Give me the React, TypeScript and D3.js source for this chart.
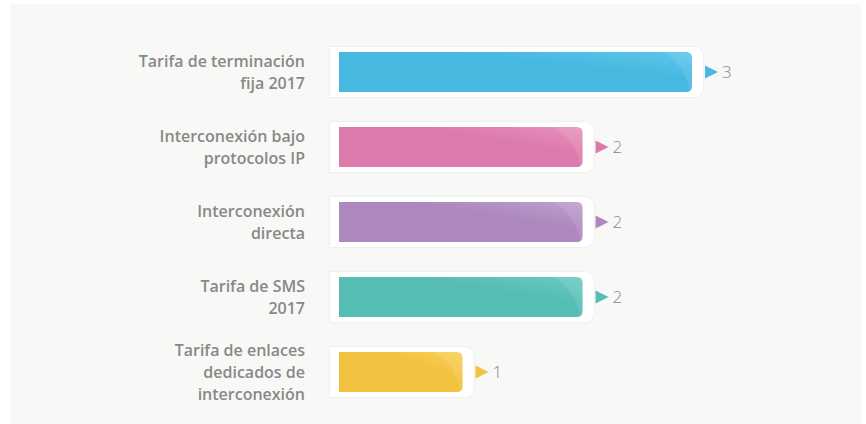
import React from "react";
import * as d3 from "d3";

const categories: string[][] = [
  ["Tarifa de terminación", "fija 2017"],
  ["Interconexión bajo", "protocolos IP"],
  ["Interconexión", "directa"],
  ["Tarifa de SMS", "2017"],
  ["Tarifa de enlaces", "dedicados de", "interconexión"],
];
const values: number[] = [3, 2.07, 2.07, 2.07, 1.05];
const colors: string[] = ["#47b8e0", "#db7aab", "#ad88be", "#55bdb3", "#f2c240"];
const lightColors: string[] = ["#5cc6ec", "#e792bd", "#bf9fce", "#6acbc2", "#fbd157"];

const W = 866;
const H = 424;

export default function App() {
  const x = d3.scaleLinear().domain([0, 3]).range([339, 692]);
  const y = d3
    .scaleBand<number>()
    .domain(d3.range(values.length))
    .range([34.5, 409.5])
    .paddingInner(0);
  const barH = 40;
  const lineH = 22;

  return (
    <svg
      width={W}
      height={H}
      style={{ position: "absolute", left: 0, top: 0, fontFamily: "'Open Sans', sans-serif" }}
    >
      <defs>
        {colors.map((c, i) => (
          <linearGradient key={i} id={`g${i}`} x1="0" y1="1" x2="1" y2="0">
            <stop offset="0%" stopColor={c} />
            <stop offset="65%" stopColor={c} />
            <stop offset="100%" stopColor={lightColors[i]} />
          </linearGradient>
        ))}
        <filter id="sh" x="-5%" y="-20%" width="110%" height="140%">
          <feDropShadow dx="0" dy="0" stdDeviation="0.8" floodColor="#000" floodOpacity="0.1" />
        </filter>
      </defs>
      <rect x={0} y={0} width={W} height={H} fill="#ffffff" />
      <rect x={10} y={4} width={851} height={420} fill="#f8f8f6" />
      {values.map((v, i) => {
        const cy = (y(i) as number) + y.bandwidth() / 2;
        const x0 = x(0);
        const x1 = x(v);
        const top = cy - barH / 2;
        const r = 6;
        const barPath = `M${x0},${top} H${x1 - r} Q${x1},${top} ${x1},${top + r} V${top + barH - r} Q${x1},${top + barH} ${x1 - r},${top + barH} H${x0} Z`;
        const fx0 = 330;
        const fx1 = x1 + 11;
        const ft = cy - 25;
        const fb = cy + 25;
        const fr = 10;
        const framePath = `M${fx0},${ft} H${fx1 - fr} Q${fx1},${ft} ${fx1},${ft + fr} V${fb - fr} Q${fx1},${fb} ${fx1 - fr},${fb} H${fx0} Z`;
        const hl = `M${x1 - 30},${top} H${x1 - r} Q${x1},${top} ${x1},${top + r} V${top + barH - r} Q${x1},${top + barH} ${x1 - r},${top + barH} H${x1 - 2} Q${x1 - 8},${top + 10} ${x1 - 30},${top} Z`;
        const tx = fx1 + 2;
        const lines = categories[i];
        const startY = cy - ((lines.length - 1) * lineH) / 2;
        return (
          <g key={i}>
            <path d={framePath} fill="#ffffff" filter="url(#sh)" />
            <path d={barPath} fill={`url(#g${i})`} />
            <path d={hl} fill="#ffffff" opacity={0.1} />
            <path
              d={`M${tx},${cy - 6.5} L${tx + 13},${cy} L${tx},${cy + 6.5} Z`}
              fill={colors[i]}
            />
            <text
              x={tx + 17}
              y={cy}
              dy="0.36em"
              fontSize={17}
              fontWeight={300}
              fill="#888"
            >
              {d3.format(".0f")(v)}
            </text>
            <text textAnchor="end" fontSize={16} fontWeight={600} fill="#888">
              {lines.map((l, j) => (
                <tspan key={j} x={305} y={startY + j * lineH} dy="0.36em">
                  {l}
                </tspan>
              ))}
            </text>
          </g>
        );
      })}
    </svg>
  );
}
